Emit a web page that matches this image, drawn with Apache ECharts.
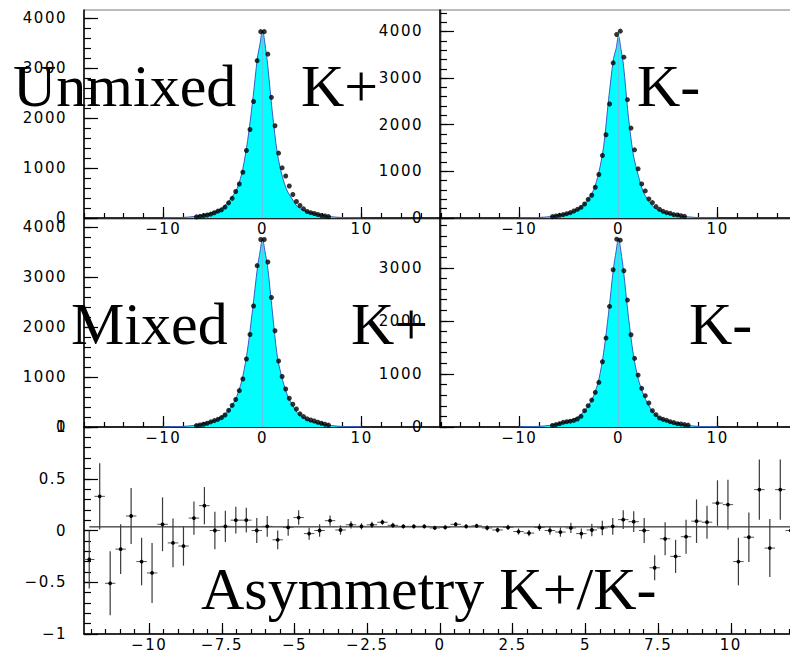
<!DOCTYPE html>
<html>
<head>
<meta charset="utf-8">
<title>Unmixed / Mixed K+ K- and asymmetry</title>
<script src="https://cdn.jsdelivr.net/npm/echarts@6/dist/echarts.min.js"></script>
<style>
  html, body { margin: 0; padding: 0; background: #ffffff; }
  #chart { width: 790px; height: 655px; }
  /* slightly open spacing for the tick numbers; panel titles keep normal spacing */
  #chart svg text { letter-spacing: 1.5px; }
  #chart svg text[style*="Serif"], #chart svg text[font-family*="Serif"] { letter-spacing: 0; }
</style>
</head>
<body>
<div id="chart"></div>
<script>
// ---------------------------------------------------------------------------
// Histogram bins: 0.36 wide, centres from -8.82 to 8.82 (50 bins)
const histBins = Array.from({ length: 50 }, (_, k) => +(-8.82 + 0.36 * k).toFixed(2));

// Data points (entries per bin), null where the bin is not drawn
const unmixedKplus = [null, null, null, null, null, null,
  22, 33, 47, 60, 78, 105, 137, 163, 218, 303, 393, 530, 680, 915, 1350, 1770, 2330, 3147, 3727,
  3727, 3277, 2413, 1845, 1297, 1004, 840, 640, 470, 330, 250, 184, 130, 106, 90, 70, 50, 40, 27,
  null, null, null, null, null, null];
const unmixedKminus = [null, null, null, null, null, null,
  30, 43, 57, 72, 93, 115, 150, 186, 229, 301, 401, 487, 659, 932, 1340, 1785, 2444, 3326, 3935,
  4007, 3448, 2537, 1928, 1462, 1054, 731, 581, 409, 330, 244, 186, 143, 115, 100, 72, 65, 50, 35,
  null, null, null, null, null, null];
const mixedKplus = [null, null, null, null, null, null,
  28, 40, 55, 75, 103, 127, 153, 187, 240, 333, 433, 550, 727, 960, 1360, 1850, 2420, 3227, 3750,
  3750, 3300, 2590, 1925, 1320, 1010, 760, 575, 455, 360, 263, 207, 163, 140, 120, 95, 75, 55, 38,
  null, null, null, null, null, null];
const mixedKminus = [null, null, null, null, null, null,
  30, 45, 63, 88, 100, 110, 125, 151, 201, 308, 402, 508, 653, 841, 1230, 1676, 2272, 2963, 3540,
  3521, 2944, 2392, 1739, 1293, 979, 728, 590, 452, 308, 232, 169, 144, 126, 100, 82, 63, 56, 45, 35,
  null, null, null, null, null];

// Reference shape (filled curve), sampled at these positions
const curveX = [-10, -8, -7, -6, -5, -4.5, -4, -3.5, -3, -2.5, -2, -1.5, -1, -0.5, -0.25, 0,
  0.25, 0.5, 1, 1.5, 2, 2.5, 3, 3.5, 4, 4.5, 5, 6, 7, 8, 10];
const unmixedKplusCurve = [3, 12, 28, 58, 110, 150, 215, 310, 440, 620, 970, 1550, 2330, 3220, 3480, 3760,
  3480, 3100, 2100, 1290, 830, 540, 380, 230, 165, 125, 100, 55, 25, 10, 2];
const unmixedKminusCurve = [3, 12, 28, 60, 105, 145, 205, 290, 420, 610, 960, 1530, 2540, 3420, 3620, 3900,
  3620, 3280, 2170, 1350, 910, 560, 380, 240, 170, 125, 95, 52, 25, 10, 2];
const mixedKplusCurve = [3, 12, 30, 62, 120, 165, 230, 320, 450, 660, 1000, 1560, 2350, 3200, 3500, 3770,
  3510, 3230, 2300, 1400, 960, 640, 440, 290, 200, 145, 110, 60, 28, 11, 3];
const mixedKminusCurve = [3, 12, 30, 65, 115, 150, 200, 290, 410, 590, 880, 1400, 2150, 3000, 3300, 3560,
  3300, 2950, 2080, 1360, 900, 620, 420, 280, 190, 140, 105, 60, 30, 12, 3];

// Asymmetry: 68 bins of width 0.36, centres from -12.06 to 12.06
const asymBins = Array.from({ length: 68 }, (_, k) => +(-12.06 + 0.36 * k).toFixed(2));
const asymValue = [-0.28, 0.33, -0.51, -0.18, 0.14, -0.30, -0.41, 0.06, -0.12, -0.15,
  0.12, 0.24, 0.00, 0.04, 0.10, 0.10, 0.00, 0.04, -0.09, 0.03,
  0.125, -0.03, 0.00, 0.095, 0.005, 0.055, 0.04, 0.055, 0.08, 0.05,
  0.04, 0.04, 0.04, 0.025, 0.03, 0.06, 0.04, 0.045, 0.025, 0.005,
  0.03, -0.01, -0.025, 0.03, 0.00, -0.015, 0.025, -0.03, 0.005, 0.025,
  0.04, 0.105, 0.085, 0.00, -0.36, -0.08, -0.25, -0.06, 0.09, 0.08,
  0.265, 0.25, -0.30, -0.065, 0.395, -0.17, 0.395, 0.00];
const asymError = [0.28, 0.32, 0.31, 0.24, 0.27, 0.23, 0.29, 0.26, 0.235, 0.19,
  0.16, 0.18, 0.18, 0.15, 0.13, 0.12, 0.12, 0.10, 0.09, 0.08,
  0.07, 0.06, 0.06, 0.05, 0.045, 0.035, 0.03, 0.03, 0.025, 0.025,
  0.02, 0.02, 0.02, 0.02, 0.02, 0.02, 0.02, 0.02, 0.025, 0.025,
  0.025, 0.03, 0.03, 0.035, 0.04, 0.045, 0.05, 0.05, 0.06, 0.07,
  0.08, 0.09, 0.10, 0.12, 0.12, 0.16, 0.16, 0.165, 0.21, 0.16,
  0.22, 0.24, 0.23, 0.24, 0.29, 0.28, 0.29, 0.30];
const asymFitLevel = [0.035];
const asymFitRange = [-12.06, 12.24];

// Tick labels
const histXLabels = [-10, 0, 10];
const histYLabels = [0, 1000, 2000, 3000, 4000];
const asymXLabels = [-10, -7.5, -5, -2.5, 0, 2.5, 5, 7.5, 10];
const asymYLabels = [-1, -0.5, 0, 0.5, 1];

// Panel titles
const panelTitles = ['Unmixed', 'K+', 'K-', 'Mixed', 'K+', 'K-', 'Asymmetry K+/K-'];

// ---------------------------------------------------------------------------
const TICK_FONT = 'DejaVu Sans';
const TITLE_FONT = '60px "Liberation Serif", "Times New Roman", serif';
const HALF_BIN = 0.18;

const grids = [
  { left: 84,  top: 10,  width: 357, height: 208 },
  { left: 440, top: 10,  width: 357, height: 208 },
  { left: 84,  top: 219, width: 357, height: 208 },
  { left: 440, top: 219, width: 357, height: 208 },
  { left: 84,  top: 427, width: 712, height: 207 }
].map(g => Object.assign({ show: true, borderColor: '#777', borderWidth: 1,
  backgroundColor: 'transparent', containLabel: false, outerBoundsMode: 'none' }, g));

const histPanels = [
  { data: unmixedKplus,  curve: unmixedKplusCurve,  yMax: 4160 },
  { data: unmixedKminus, curve: unmixedKminusCurve, yMax: 4460 },
  { data: mixedKplus,    curve: mixedKplusCurve,    yMax: 4160 },
  { data: mixedKminus,   curve: mixedKminusCurve,   yMax: 3920 }
];

function fmt(v) { return v < 0 ? '\u2212' + Math.abs(v) : String(v); }
function steps(from, to, step) {
  const out = [];
  for (let v = from; v <= to + 1e-9; v += step) out.push(Math.round(v * 1000) / 1000);
  return out;
}

// A main axis (line, long ticks, labels) plus a companion axis carrying the short ticks
function axisPair(kind, gridIndex, min, max, major, minor, majLen, minLen, margin) {
  const base = {
    type: 'value', gridIndex, min, max,
    position: kind === 'x' ? 'bottom' : 'left',
    splitLine: { show: false }, splitArea: { show: false },
    axisPointer: { show: false }, silent: true
  };
  const inRange = v => v >= min - 1e-9 && v <= max + 1e-9;
  const majorVals = major.filter(inRange);
  return [
    Object.assign({}, base, {
      axisLine: { show: true, onZero: false, lineStyle: { color: '#000', width: 1.5 } },
      axisTick: { show: true, inside: true, length: majLen, customValues: majorVals,
        lineStyle: { color: '#000', width: 1.2 } },
      axisLabel: { show: true, customValues: majorVals, formatter: fmt, margin,
        fontFamily: TICK_FONT, fontSize: 15, color: '#000' }
    }),
    Object.assign({}, base, {
      axisLine: { show: false, onZero: false },
      axisTick: { show: true, inside: true, length: minLen, customValues: minor.filter(inRange),
        lineStyle: { color: '#000', width: 1.2 } },
      axisLabel: { show: false }
    })
  ];
}

const xAxes = [], yAxes = [], series = [];

histPanels.forEach((p, g) => {
  xAxes.push(...axisPair('x', g, -18, 18, histXLabels, steps(-18, 18, 2), 11, 5, 3));
  yAxes.push(...axisPair('y', g, 0, p.yMax, histYLabels, steps(0, p.yMax, 200), 14, 7, 17));
  const ax = { xAxisIndex: 2 * g, yAxisIndex: 2 * g };
  series.push(Object.assign({
    type: 'line', smooth: 0.3, symbol: 'none', silent: true, z: 2,
    data: curveX.map((x, i) => [x, p.curve[i]]),
    lineStyle: { color: '#3a5cc4', width: 1 },
    areaStyle: { color: '#00ffff', opacity: 1 }
  }, ax));
  series.push(Object.assign({
    type: 'line', symbol: 'none', silent: true, z: 3,
    data: [[0, 0], [0, p.curve[curveX.indexOf(0)]]],
    lineStyle: { color: '#62c4e4', width: 1 }
  }, ax));
  series.push(Object.assign({
    type: 'scatter', symbol: 'circle', symbolSize: 5, silent: true, z: 4,
    data: histBins.map((x, i) => p.data[i] == null ? null : [x, p.data[i]]).filter(Boolean),
    itemStyle: { color: '#000' }
  }, ax));
});

// Asymmetry panel
xAxes.push(...axisPair('x', 4, -12.24, 12.24, asymXLabels, steps(-12, 12, 0.5), 11, 5, 3));
yAxes.push(...axisPair('y', 4, -1, 1, asymYLabels, steps(-1, 1, 0.1), 14, 7, 17));

series.push({
  type: 'line', xAxisIndex: 8, yAxisIndex: 8, symbol: 'none', silent: true, z: 3,
  data: asymFitRange.map(x => [x, asymFitLevel[0]]),
  lineStyle: { color: '#000', width: 1 }
});
series.push({
  type: 'custom', xAxisIndex: 8, yAxisIndex: 8, silent: true, z: 4, clip: true,
  data: asymBins.map((x, i) => [x, asymValue[i], asymError[i]]),
  renderItem(params, api) {
    const x = api.value(0), y = api.value(1), e = api.value(2);
    const c = api.coord([x, y]);
    const top = api.coord([x, y + e]);
    const bot = api.coord([x, y - e]);
    const l = api.coord([x - HALF_BIN, y]);
    const r = api.coord([x + HALF_BIN, y]);
    return {
      type: 'group',
      children: [
        { type: 'line', shape: { x1: c[0], y1: top[1], x2: c[0], y2: bot[1] },
          style: { stroke: '#3a3a3a', lineWidth: 1.2 } },
        { type: 'line', shape: { x1: l[0], y1: c[1], x2: r[0], y2: c[1] },
          style: { stroke: '#555', lineWidth: 1 } },
        { type: 'circle', shape: { cx: c[0], cy: c[1], r: 1.9 },
          style: { fill: '#000' } }
      ]
    };
  }
});

// Large panel titles (left edge, vertical middle)
const titlePos = [[13, 86], [301, 86], [637, 86], [71, 324], [351, 324], [689, 324], [201, 589]];
const graphic = panelTitles.map((t, i) => ({
  type: 'text', z: 100, silent: true,
  style: {
    text: t, x: titlePos[i][0], y: titlePos[i][1], font: TITLE_FONT, fill: '#000',
    align: 'left', verticalAlign: 'middle', textAlign: 'left', textVerticalAlign: 'middle'
  }
}));

const chart = echarts.init(document.getElementById('chart'), null, { renderer: 'svg' });
chart.setOption({
  animation: false,
  backgroundColor: '#ffffff',
  grid: grids,
  xAxis: xAxes,
  yAxis: yAxes,
  series,
  graphic
});
</script>
</body>
</html>
